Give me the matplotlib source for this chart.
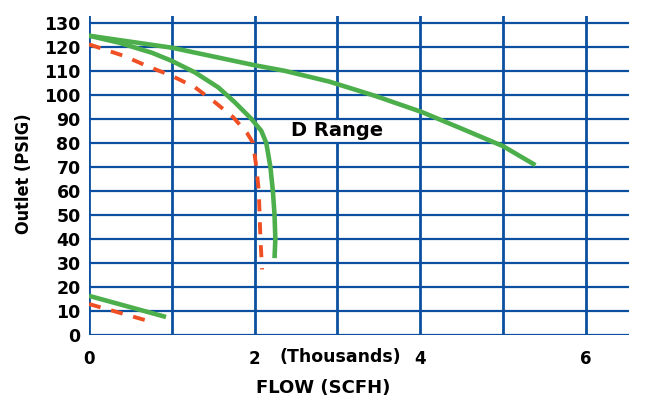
import matplotlib
matplotlib.use("Agg")
import matplotlib.pyplot as plt
from matplotlib import font_manager
from matplotlib.ticker import FixedLocator

plt.rcParams['font.family'] = ['DejaVu Sans']
plt.rcParams['font.weight'] = 'bold'

# Data (flow in thousands SCFH, outlet pressure PSIG)
upper_flow = [0, 1, 2, 2.36, 2.9, 3.45, 4.02, 4.5, 5.0, 5.39]
upper_psig = [124.6, 119.6, 112.3, 110, 105.5, 99.6, 92.8, 85.9, 78.6, 70.7]

knee_flow = [0, 0.36, 0.76, 1.0, 1.28, 1.56, 1.76, 1.96, 2.08, 2.14, 2.19, 2.22, 2.24, 2.25, 2.24]
knee_psig = [124.6, 121.7, 117.5, 114.1, 109.3, 103.1, 96.9, 90, 85, 80, 70, 60, 50, 40, 32]

red_flow = [0, 0.42, 0.72, 1.0, 1.28, 1.52, 1.74, 1.91, 1.98, 2.02, 2.05, 2.06, 2.07, 2.09]
red_psig = [121, 116.2, 111.7, 107.9, 103.1, 96.9, 90.7, 84, 80, 70, 60, 50, 40, 27.3]

low_green_flow = [0, 0.93]
low_green_psig = [16.3, 7.5]
low_red_flow = [0, 0.76]
low_red_psig = [12.9, 5.4]

x_ticks = [0, 2, 4, 6]
x_minor = [1, 3, 5]
y_ticks = list(range(0, 131, 10))

BLUE = '#0A4FA0'
GREEN = '#4CAF4C'
RED = '#F04E23'

names = {f.name for f in font_manager.fontManager.ttflist}
if 'Liberation Sans Narrow' in names:
    ylab_font = dict(family=['Liberation Sans Narrow'], fontsize=17.4)
else:
    ylab_font = dict(family=['DejaVu Sans'], fontstretch='condensed', fontsize=13)

fig = plt.figure(figsize=(6.62, 4.12), dpi=100)
ax = fig.add_axes([89/662, 77/412, 540/662, 319/412])
ax.set_xlim(0, 6.52)
ax.set_ylim(0, 132.8)

for s in ax.spines.values():
    s.set_visible(False)

ax.xaxis.set_major_locator(FixedLocator(x_ticks))
ax.xaxis.set_minor_locator(FixedLocator(x_minor))
ax.set_yticks(y_ticks)
ax.set_xticklabels([str(t) for t in x_ticks], fontsize=12, fontweight='bold')
ax.set_yticklabels([str(t) for t in y_ticks], fontsize=12.5, fontweight='bold')
ax.tick_params(axis='both', which='both', length=0)
ax.tick_params(axis='x', pad=11)
ax.tick_params(axis='y', pad=6)

ax.grid(True, which='both', axis='x', color=BLUE, linewidth=2.0)
ax.grid(False, axis='y')
ax.set_axisbelow(True)
for yv in y_ticks:
    ax.axhline(yv, color=BLUE, linewidth=1.6, zorder=6)

kw_g = dict(color=GREEN, lw=3.3, solid_capstyle='butt', solid_joinstyle='round', zorder=7)
kw_r = dict(color=RED, lw=2.8, dashes=(3.1, 2.8), dash_capstyle='butt', zorder=7)
ax.plot(upper_flow, upper_psig, **kw_g)
ax.plot(knee_flow, knee_psig, **kw_g)
ax.plot(red_flow, red_psig, **kw_r)
ax.plot(low_green_flow, low_green_psig, **kw_g)
ax.plot(low_red_flow, low_red_psig, **kw_r)

ax.text(3.0, 85, 'D Range', fontsize=14, fontweight='bold', ha='center', va='center',
        bbox=dict(facecolor='white', edgecolor='none', pad=2.5), zorder=5)

ax.text(3.04, -9.2, '(Thousands)', fontsize=12.5, fontweight='bold', ha='center', va='center')

fig.text(323/662, 1 - 388/412, 'FLOW (SCFH)', fontsize=13, fontweight='bold', ha='center', va='center')
fig.text(24/662, 1 - 173.5/412, 'Outlet (PSIG)', fontweight='bold', ha='center', va='center',
         rotation=90, **ylab_font)

fig.savefig('out.png', dpi=100)
